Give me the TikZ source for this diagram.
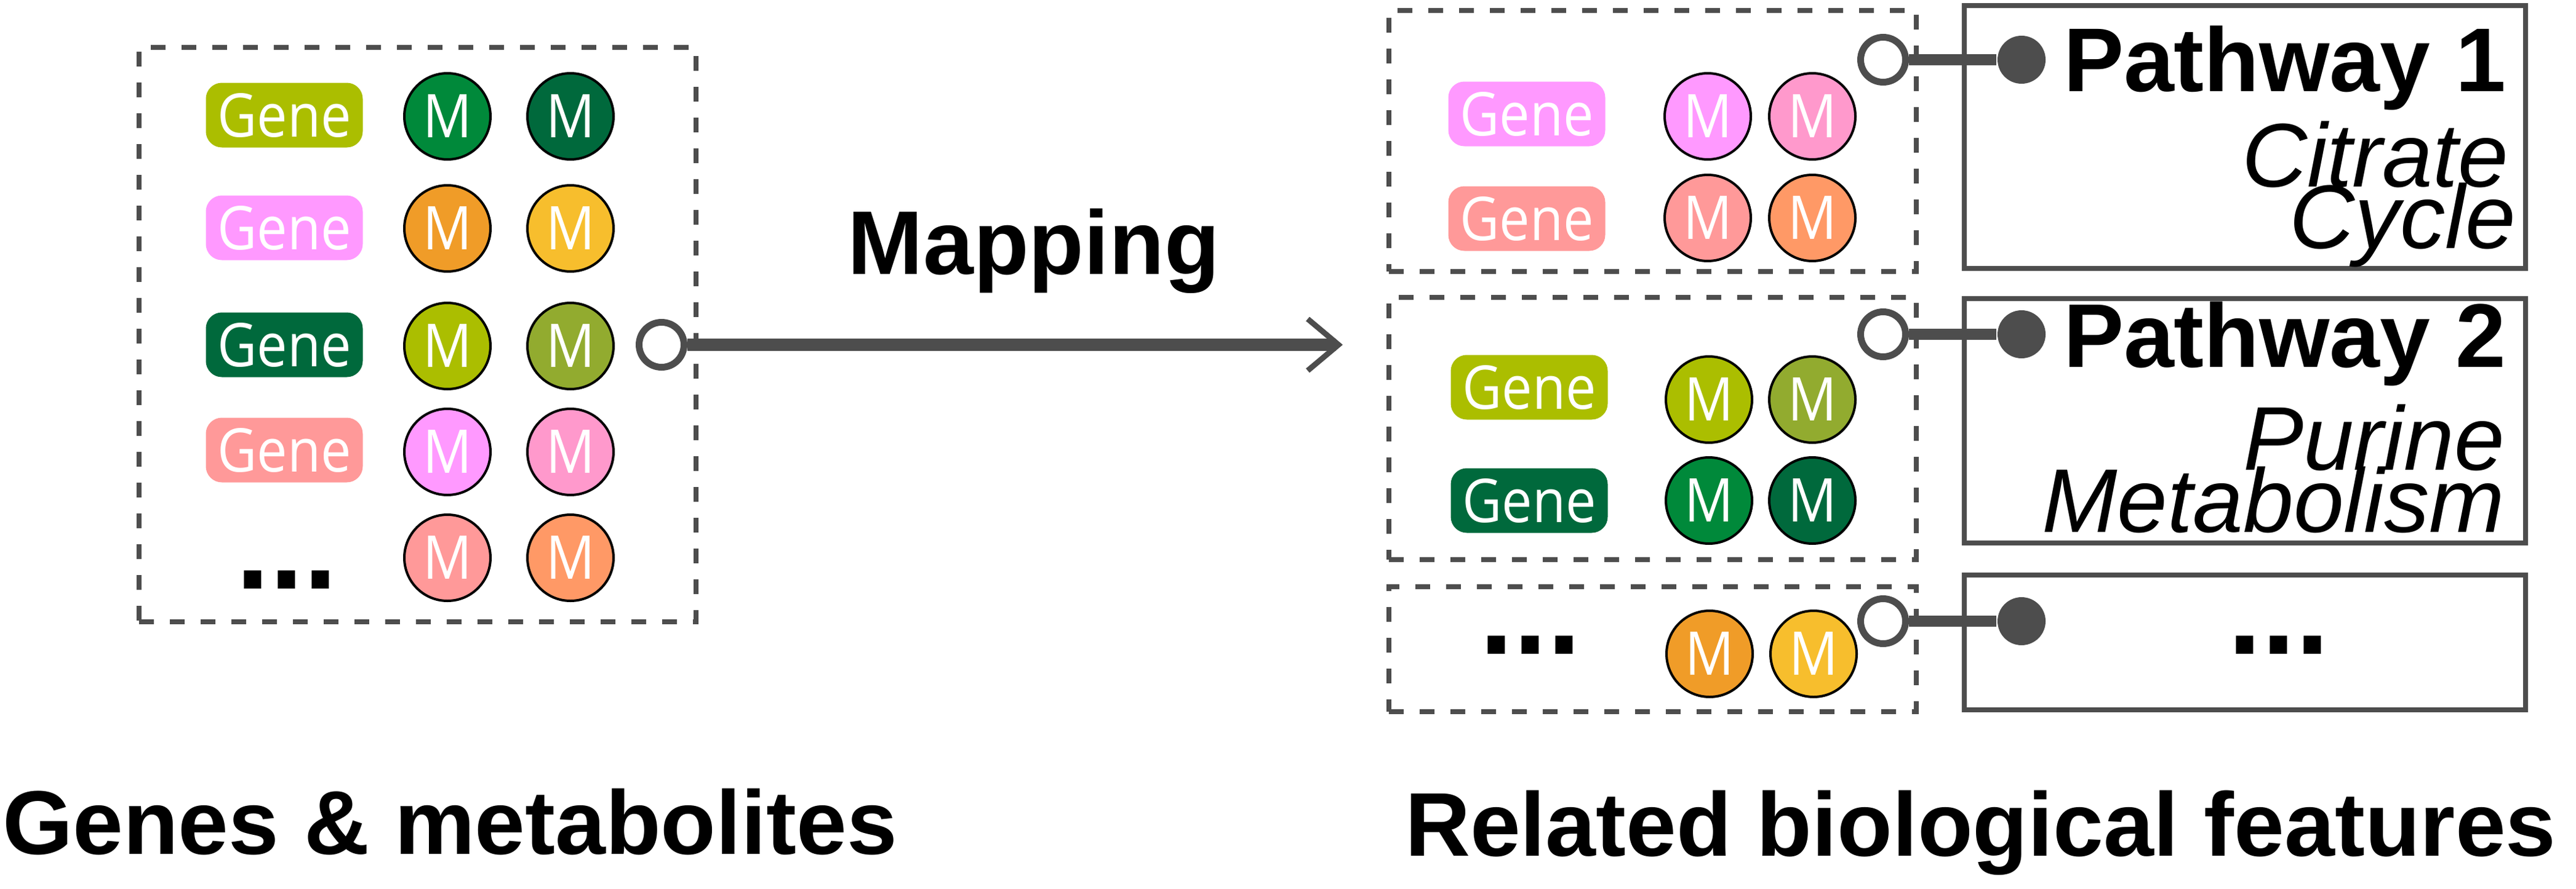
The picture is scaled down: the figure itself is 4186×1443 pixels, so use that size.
\documentclass[tikz,border=0pt]{standalone}
\usepackage{fontspec}
\setmainfont{Liberation Sans}
\newfontfamily\genefont[FakeStretch=0.9]{Open Sans}
\usetikzlibrary{arrows.meta}
\definecolor{dgray}{HTML}{4D4D4D}
\definecolor{cYG}{HTML}{ABBE00}
\definecolor{cViolet}{HTML}{FF99FF}
\definecolor{cDG}{HTML}{00693C}
\definecolor{cSalmon}{HTML}{FF9999}
\definecolor{cGreen}{HTML}{00893A}
\definecolor{cOrange}{HTML}{F09C28}
\definecolor{cYellow}{HTML}{F7BE2D}
\definecolor{cOlive}{HTML}{92AB2F}
\definecolor{cPink}{HTML}{FF99CC}
\definecolor{cPeach}{HTML}{FF9966}
\begin{document}
\begin{tikzpicture}[x=0.1pt,y=-0.1pt,
  dbox/.style={draw=dgray, line width=0.8pt, dash pattern=on 2.4pt off 2.6pt, inner sep=0pt},
  pbox/.style={draw=dgray, line width=0.8pt, inner sep=0pt},
  genebox/.style={rounded corners=2.6pt, fill=#1, text=white, minimum width=25.5pt, minimum height=10.5pt, inner sep=0pt, font=\genefont\fontsize{9.8}{10}\selectfont},
  metab/.style={circle, draw=black, line width=0.4pt, fill=#1, text=white, minimum size=14pt, inner sep=0pt, font=\genefont\fontsize{9.8}{10}\selectfont},
  ocirc/.style={circle, draw=dgray, fill=white, line width=1.1pt, minimum size=7.3pt, inner sep=0pt},
  fcirc/.style={circle, fill=dgray, minimum size=7.8pt, inner sep=0pt},
  linkline/.style={draw=dgray, line width=1.8pt},
  bigtxt/.style={font=\bfseries\fontsize{14.7}{17}\selectfont, inner sep=0pt},
  italtxt/.style={font=\itshape\fontsize{14.7}{17}\selectfont, inner sep=0pt},
  dotstxt/.style={font=\bfseries\fontsize{19.8}{20}\selectfont, inner sep=0pt},
]
\useasboundingbox (0,0) rectangle (4186,1443);

% ---------- left group ----------
\node[dbox, minimum width=90.5pt, minimum height=93.3pt] (lbox) at (678.5,543.5) {};
\node[genebox=cYG]     (lg1) at (462,187) {Gene};
\node[genebox=cViolet] (lg2) at (462,370) {Gene};
\node[genebox=cDG]     (lg3) at (462,560) {Gene};
\node[genebox=cSalmon] (lg4) at (462,731) {Gene};
\node[dotstxt, anchor=base west] (ldots) at (381,956) {...};

\node[metab=cGreen]  (lm11) at (727,189) {M};
\node[metab=cDG]     (lm12) at (927,189) {M};
\node[metab=cOrange] (lm21) at (727,371) {M};
\node[metab=cYellow] (lm22) at (927,371) {M};
\node[metab=cYG]     (lm31) at (727,562) {M};
\node[metab=cOlive]  (lm32) at (927,562) {M};
\node[metab=cViolet] (lm41) at (727,734) {M};
\node[metab=cPink]   (lm42) at (927,734) {M};
\node[metab=cSalmon] (lm51) at (727,906) {M};
\node[metab=cPeach]  (lm52) at (927,906) {M};

% ---------- mapping arrow ----------
\node[ocirc] (loc) at (1075,560) {};
\coordinate (mapend) at (2182,560);
\draw[linkline, line width=2pt, -{Straight Barb[length=5pt, width=8.4pt, line width=0.9pt 0]}] (loc.east) -- (mapend);
\node[bigtxt, anchor=base] (maptxt) at (1680,445) {Mapping};

% ---------- right groups ----------
\node[dbox, minimum width=85.7pt, minimum height=42.4pt] (rbox1) at (2685.5,229) {};
\node[dbox, minimum width=85.7pt, minimum height=42.6pt] (rbox2) at (2685.5,696) {};
\node[dbox, minimum width=85.7pt, minimum height=20.3pt] (rbox3) at (2685.5,1054.5) {};

\node[genebox=cViolet] (rg1) at (2481,185) {Gene};
\node[genebox=cSalmon] (rg2) at (2481,355) {Gene};
\node[genebox=cYG]     (rg3) at (2485,629) {Gene};
\node[genebox=cDG]     (rg4) at (2485,813) {Gene};
\node[dotstxt, anchor=base west] (rdots) at (2402,1062) {...};

\node[metab=cViolet] (rm11) at (2775,189) {M};
\node[metab=cPink]   (rm12) at (2945,189) {M};
\node[metab=cSalmon] (rm21) at (2775,354) {M};
\node[metab=cPeach]  (rm22) at (2945,354) {M};
\node[metab=cYG]     (rm31) at (2777,649) {M};
\node[metab=cOlive]  (rm32) at (2945,649) {M};
\node[metab=cGreen]  (rm41) at (2777,813) {M};
\node[metab=cDG]     (rm42) at (2945,813) {M};
\node[metab=cOrange] (rm51) at (2778,1062) {M};
\node[metab=cYellow] (rm52) at (2947,1062) {M};

% ---------- pathway boxes ----------
\node[pbox, minimum width=91.2pt, minimum height=42.7pt] (pbox1) at (3648,222.5) {};
\node[pbox, minimum width=91.2pt, minimum height=39.7pt] (pbox2) at (3648,683.5) {};
\node[pbox, minimum width=91.2pt, minimum height=21.9pt] (pbox3) at (3648,1043.5) {};

\node[ocirc] (oc1) at (3060,97) {};
\node[ocirc] (oc2) at (3060,543) {};
\node[ocirc] (oc3) at (3060,1009) {};
\node[fcirc] (fc1) at (3285,97) {};
\node[fcirc] (fc2) at (3285,543) {};
\node[fcirc] (fc3) at (3285,1009) {};
\draw[linkline] (oc1.east) -- (fc1.west);
\draw[linkline] (oc2.east) -- (fc2.west);
\draw[linkline] (oc3.east) -- (fc3.west);

\node[bigtxt, anchor=base east] (p1) at (4074,148) {Pathway 1};
\node[italtxt, anchor=base east] (p1a) at (4078,303) {Citrate};
\node[italtxt, anchor=base east] (p1b) at (4090,403) {Cycle};
\node[bigtxt, anchor=base east] (p2) at (4074,596) {Pathway 2};
\node[italtxt, anchor=base east] (p2a) at (4072,763) {Purine};
\node[italtxt, anchor=base east] (p2b) at (4072,864) {Metabolism};
\node[dotstxt, anchor=base west] (pdots) at (3618,1062) {...};

% ---------- captions ----------
\node[bigtxt, anchor=base west] (capl) at (2,1387) {Genes \& metabolites};
\node[bigtxt, anchor=base west] (capr) at (2281,1390) {Related biological features};
\end{tikzpicture}
\end{document}
